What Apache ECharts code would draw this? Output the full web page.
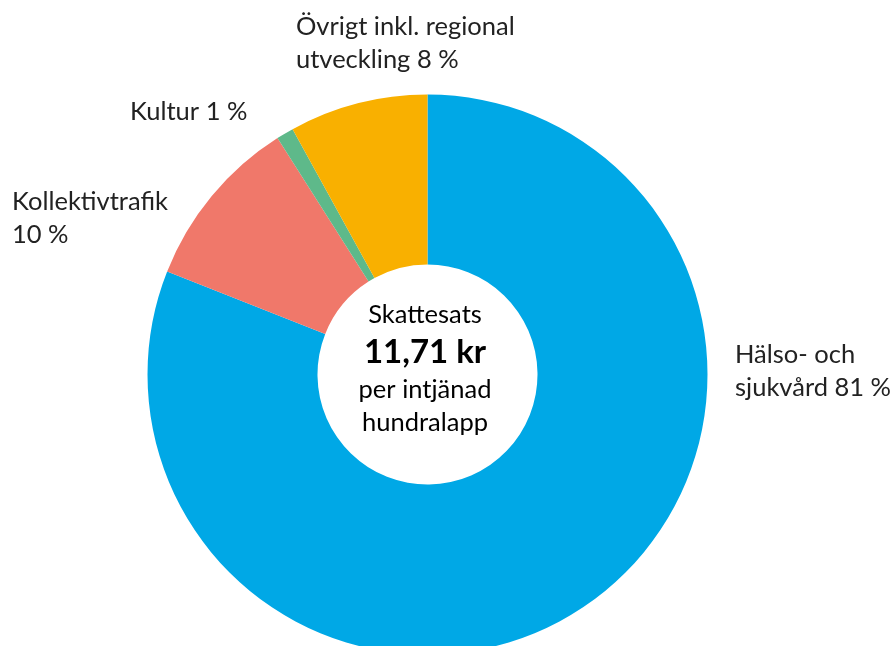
<!DOCTYPE html>
<html lang="sv">
<head>
  <meta charset="UTF-8" />
  <title>Skattesats</title>
  <script src="https://cdn.jsdelivr.net/npm/echarts@6/dist/echarts.min.js"></script>
  <style>
    body { margin: 0; background: #fff; }
    #chart { width: 890px; height: 646px; }
  </style>
</head>
<body>
  <div id="chart"></div>
  <script>
    // andelar av skattesatsen
    const names = ['Hälso- och sjukvård', 'Kollektivtrafik', 'Kultur', 'Övrigt inkl. regional utveckling'];
    const values = [81, 10, 1, 8];
    const labelTexts = ['Hälso- och\nsjukvård 81 %', 'Kollektivtrafik\n10 %', 'Kultur 1 %', 'Övrigt inkl. regional\nutveckling 8 %'];
    const colors = ['#00a8e6', '#f0786a', '#5eb98a', '#f9b000'];
    const centerLines = ['Skattesats', '11,71 kr', 'per intjänad', 'hundralapp'];

    // var etiketterna står (vänsterkant, mitt)
    const labelPos = [
      { x: 735, y: 371 },
      { x: 12, y: 218 },
      { x: 130, y: 112 },
      { x: 296, y: 43 }
    ];

    const font = "'Source Sans Pro', Lato, 'Noto Sans', sans-serif";

    const chart = echarts.init(document.getElementById('chart'));
    chart.setOption({
      animation: false,
      series: [{
        type: 'pie',
        center: [427.5, 374.5],
        radius: [110, 280],
        startAngle: 90,
        clockwise: true,
        silent: true,
        data: names.map((n, i) => ({
          name: n,
          value: values[i],
          itemStyle: { color: colors[i] }
        })),
        label: {
          show: true,
          formatter: p => labelTexts[p.dataIndex],
          color: '#222',
          fontFamily: font,
          fontSize: 25.5,
          lineHeight: 33,
          overflow: 'none'
        },
        labelLine: { show: false },
        labelLayout: p => ({
          x: labelPos[p.dataIndex].x,
          y: labelPos[p.dataIndex].y,
          align: 'left',
          verticalAlign: 'middle'
        })
      }],
      graphic: [{
        type: 'text',
        x: 425,
        y: 298,
        style: {
          text: [
            '{n|' + centerLines[0] + '}',
            '{b|' + centerLines[1] + '}',
            '{n|' + centerLines[2] + '}',
            '{n|' + centerLines[3] + '}'
          ].join('\n'),
          align: 'center',
          verticalAlign: 'top',
          rich: {
            n: { fontFamily: font, fontSize: 25.5, lineHeight: 33, color: '#222', align: 'center' },
            b: { fontFamily: font, fontSize: 33, fontWeight: 'bold', lineHeight: 42, color: '#1a1a1a', align: 'center' }
          }
        }
      }]
    });
  </script>
</body>
</html>
